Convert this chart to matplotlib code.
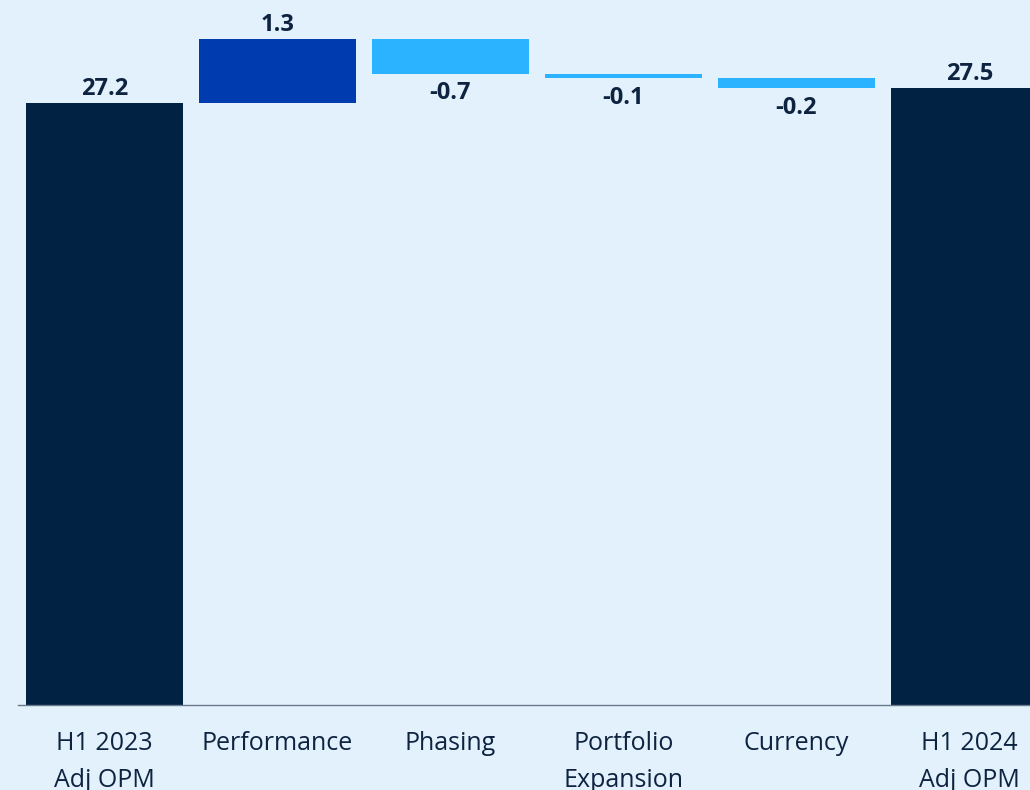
import matplotlib.pyplot as plt

# waterfall: opening margin, movements, closing margin
categories = ["H1 2023\nAdj OPM", "Performance", "Phasing", "Portfolio\nExpansion",
              "Currency", "H1 2024\nAdj OPM"]
start_value = 27.2
changes = [1.3, -0.7, -0.1, -0.2]
end_value = 27.5

bg = "#e2f1fc"
navy = "#012243"
up_col = "#003bb0"
down_col = "#2bb3ff"
text_col = "#0d2340"
base = 15

plt.rcParams['font.family'] = ['Open Sans', 'DejaVu Sans']

fig = plt.figure(figsize=(10.3, 7.9), dpi=100, facecolor=bg)
ax = fig.add_axes([18 / 1030, 85 / 790, 1012 / 1030, 705 / 790], facecolor=bg)

width = 0.9075
lbl_kw = dict(ha="center", fontsize=17, fontweight="bold", color=text_col)

# opening bar
ax.bar(0, start_value - base, bottom=base, width=width, color=navy)
ax.text(0, start_value + 0.05, f"{start_value:.1f}", va="bottom", **lbl_kw)

# movement bars
level = start_value
for i, ch in enumerate(changes, start=1):
    lo, hi = min(level, level + ch), max(level, level + ch)
    col = up_col if ch > 0 else down_col
    ax.bar(i, hi - lo, bottom=lo, width=width, color=col)
    if ch > 0:
        ax.text(i, hi + 0.05, f"{ch:.1f}", va="bottom", **lbl_kw)
    else:
        ax.text(i, lo - 0.16, f"{ch:.1f}", va="top", **lbl_kw)
    level += ch

# closing bar
n = len(categories) - 1
ax.bar(n, end_value - base, bottom=base, width=width, color=navy)
ax.text(n, end_value + 0.05, f"{end_value:.1f}", va="bottom", **lbl_kw)

ax.set_xlim(-0.5, 5.35)
ax.set_ylim(base, 29.29)
ax.set_xticks(range(len(categories)))
ax.set_xticklabels(categories, fontsize=18, color=text_col, linespacing=1.6)
ax.tick_params(axis="x", length=0, pad=19)
ax.set_yticks([])
for side in ["top", "right", "left"]:
    ax.spines[side].set_visible(False)
ax.spines["bottom"].set_color("#6a7a8a")
ax.spines["bottom"].set_linewidth(1)

fig.savefig("out.png", dpi=100, facecolor=bg)
